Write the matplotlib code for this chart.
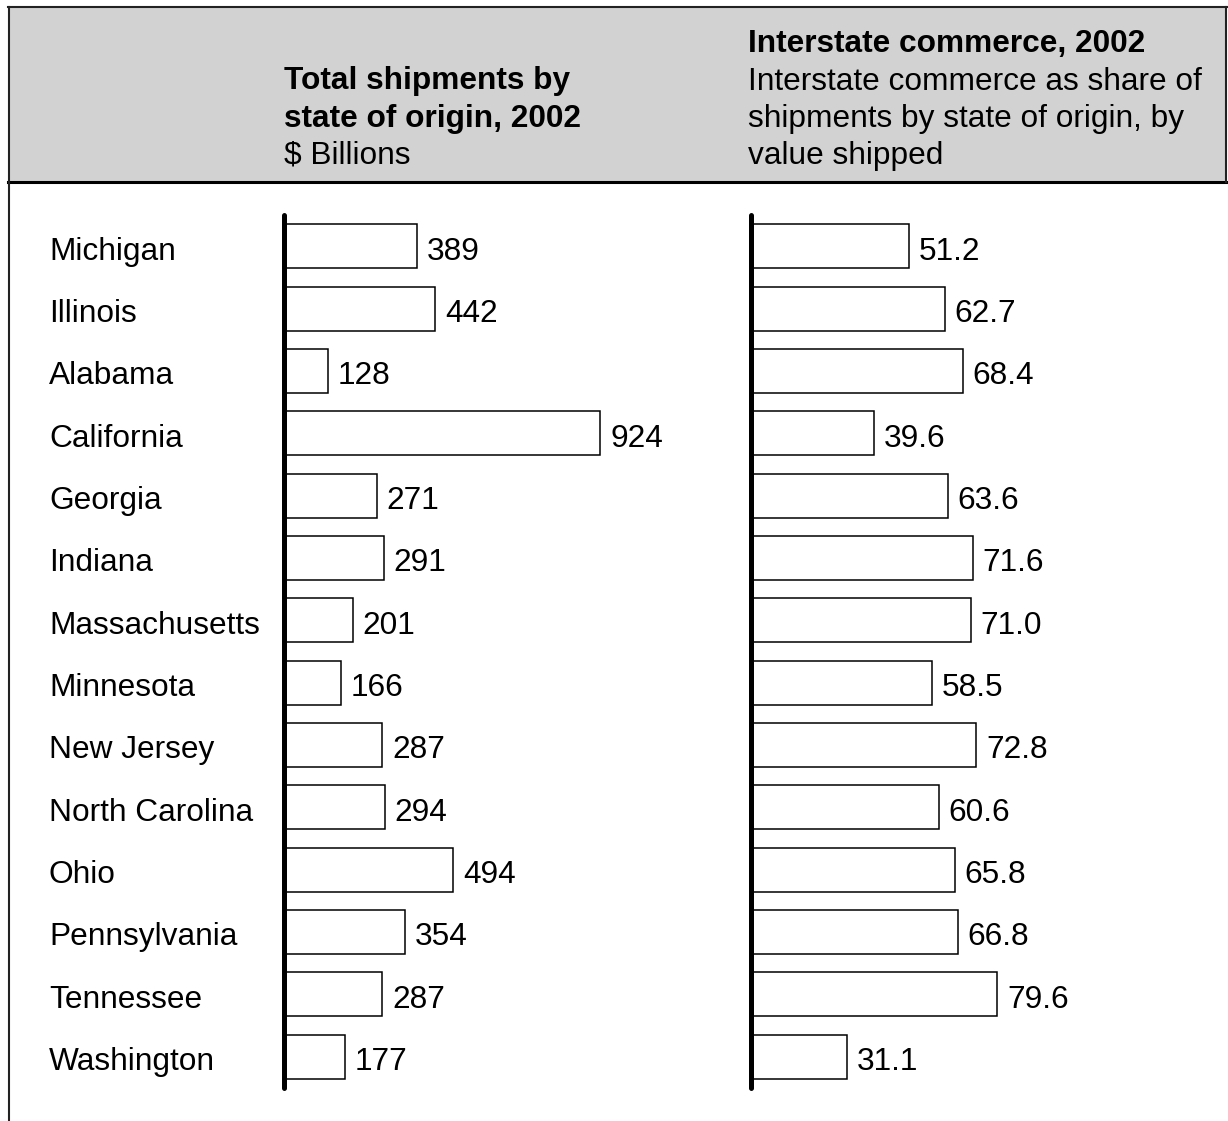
import matplotlib
matplotlib.use("Agg")
import matplotlib.pyplot as plt
from matplotlib.patches import Rectangle
from matplotlib.lines import Line2D
import matplotlib.transforms as mtransforms

states = ["Michigan", "Illinois", "Alabama", "California", "Georgia", "Indiana",
          "Massachusetts", "Minnesota", "New Jersey", "North Carolina", "Ohio",
          "Pennsylvania", "Tennessee", "Washington"]
shipments = [389, 442, 128, 924, 271, 291, 201, 166, 287, 294, 494, 354, 287, 177]
interstate = [51.2, 62.7, 68.4, 39.6, 63.6, 71.6, 71.0, 58.5, 72.8, 60.6, 65.8, 66.8, 79.6, 31.1]
shipment_labels = [str(v) for v in shipments]
interstate_labels = [f"{v:.1f}" for v in interstate]

left_title = ["Total shipments by", "state of origin, 2002"]
left_sub = ["$ Billions"]
right_title = ["Interstate commerce, 2002"]
right_sub = ["Interstate commerce as share of", "shipments by state of origin, by", "value shipped"]

W, H = 1228, 1121
plt.rcParams['font.family'] = ['Liberation Sans', 'DejaVu Sans']
FS = 22.8
fig = plt.figure(figsize=(W / 100, H / 100), dpi=100)


def fx(px):
    return px / W


def fy(py):
    return 1 - py / H


# Header box
fig.patches.append(Rectangle((fx(9), fy(182)), fx(1226) - fx(9), fy(7) - fy(182),
                             transform=fig.transFigure, facecolor="#d2d2d2",
                             edgecolor="none", zorder=0))
fig.lines.append(Line2D([fx(8), fx(1227)], [fy(7), fy(7)], transform=fig.transFigure,
                        color="#222222", lw=1.5))
fig.lines.append(Line2D([fx(8), fx(1228)], [fy(182), fy(182)], transform=fig.transFigure,
                        color="black", lw=2.2))
fig.lines.append(Line2D([fx(9), fx(9)], [fy(7), fy(1121)], transform=fig.transFigure,
                        color="#222222", lw=1.5))
fig.lines.append(Line2D([fx(1226), fx(1226)], [fy(7), fy(182)], transform=fig.transFigure,
                        color="#222222", lw=1.5))

# Header text
baselines = [52, 89.5, 127, 164]
lt = left_title + left_sub
for i, s in enumerate(lt):
    fig.text(fx(284), fy(baselines[i + 1]), s, fontsize=FS, va="baseline", ha="left",
             fontweight="bold" if i < len(left_title) else "normal")
rt = right_title + right_sub
for i, s in enumerate(rt):
    fig.text(fx(748), fy(baselines[i]), s, fontsize=FS, va="baseline", ha="left",
             fontweight="bold" if i < len(right_title) else "normal")

ytop, ybot = 215, 1088
n = len(states)
bar_h = 0.705


def make_axes(x0_px, x1_px, scale):
    ax = fig.add_axes([fx(x0_px), fy(ybot), fx(x1_px) - fx(x0_px), fy(ytop) - fy(ybot)])
    ax.set_xlim(0, (x1_px - x0_px) / scale)
    ax.set_ylim(n - 0.5, -0.5)
    ax.axis("off")
    ax.plot([0, 0], [-0.5, n - 0.5], color="black", lw=3.6, solid_capstyle="round",
            clip_on=False, zorder=5)
    return ax


axL = make_axes(284, 720, 0.3425)
axR = make_axes(751, 1200, 3.095)

ypos = list(range(n))
axL.barh(ypos, shipments, height=bar_h, left=0, facecolor="white", edgecolor="black", lw=1.1)
axR.barh(ypos, interstate, height=bar_h, left=0, facecolor="white", edgecolor="black", lw=1.1)

for ax, vals, labs in ((axL, shipments, shipment_labels), (axR, interstate, interstate_labels)):
    for i, (v, lab) in enumerate(zip(vals, labs)):
        ax.annotate(lab, xy=(v, i), xytext=(7, -9.6), textcoords="offset points",
                    fontsize=FS, va="baseline", ha="left")

trans = mtransforms.blended_transform_factory(fig.transFigure, axL.transData)
for i, s in enumerate(states):
    t = axL.text(fx(49), i, s, transform=trans, fontsize=FS, va="baseline", ha="left")
    t.set_transform(trans + mtransforms.ScaledTranslation(0, -9.6 / 72, fig.dpi_scale_trans))

fig.savefig("out.png", dpi=100)
